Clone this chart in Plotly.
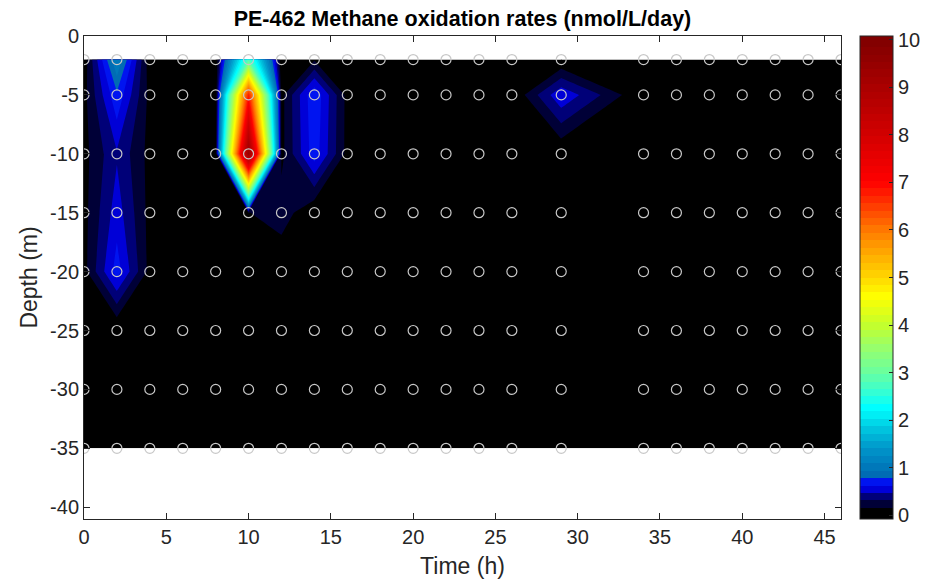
import plotly.graph_objects as go

# Sampling grid
times = [0, 2, 4, 6, 8, 10, 12, 14, 16, 18, 20, 22, 24, 26, 29, 34, 36, 38, 40, 42, 44, 46]
depths = [-2, -5, -10, -15, -20, -25, -30, -35]

# Methane oxidation rates (nmol/L/day), one row per depth, columns follow `times`
rate_d2 = [0.05, 1.1, 0.05, 0, 0, 2.8, 0, 0.14, 0, 0, 0, 0, 0, 0, 0, 0, 0, 0, 0, 0, 0, 0]
rate_d5 = [0.1, 0.75, 0.1, 0, 0, 6.8, 0.1, 0.76, 0.1, 0, 0, 0, 0, 0, 0.6, 0, 0, 0, 0, 0, 0, 0]
rate_d10 = [0.1, 0.45, 0.1, 0, 0, 9.5, 0.1, 0.72, 0.1, 0, 0, 0, 0, 0, 0, 0, 0, 0, 0, 0, 0, 0]
rate_d15 = [0.1, 0.55, 0.1, 0, 0, 0.15, 0.25, 0, 0, 0, 0, 0, 0, 0, 0, 0, 0, 0, 0, 0, 0, 0]
rate_d20 = [0.1, 0.7, 0.1, 0, 0, 0, 0, 0, 0, 0, 0, 0, 0, 0, 0, 0, 0, 0, 0, 0, 0, 0]
rate_d25 = [0] * 22
rate_d30 = [0] * 22
rate_d35 = [0] * 22
rates = [rate_d2, rate_d5, rate_d10, rate_d15, rate_d20, rate_d25, rate_d30, rate_d35]

cbar_ticks = [0, 1, 2, 3, 4, 5, 6, 7, 8, 9, 10]
x_ticks = [0, 5, 10, 15, 20, 25, 30, 35, 40, 45]
y_ticks = [0, -5, -10, -15, -20, -25, -30, -35, -40]

# Colormap key colours (value -> rgb)
cmap_vals = [0.0, 0.16, 0.234, 0.391, 0.547, 0.703, 0.859, 1.4, 1.8, 2.109, 2.266, 2.6, 3.0, 3.5, 4.0,
             4.6, 5.0, 5.5, 6.0, 6.5, 7.0, 8.0, 9.0, 10.0]
cmap_rgb = [(0, 0, 0), (0, 0, 0), (0, 0, 55), (0, 0, 120), (0, 0, 215), (0, 20, 240), (0, 108, 180),
            (0, 150, 202), (0, 195, 222), (0, 238, 245), (0, 255, 255), (55, 255, 210), (105, 255, 160),
            (150, 255, 110), (195, 255, 45), (255, 255, 0), (255, 215, 0), (255, 170, 0), (255, 120, 0),
            (255, 60, 0), (255, 0, 0), (210, 0, 0), (170, 0, 0), (128, 0, 0)]

NLEV = 64
cstep = 10.0 / NLEV
nc = NLEV + 1  # contour levels 0..10


def interp_rgb(v):
    if v <= cmap_vals[0]:
        return cmap_rgb[0]
    for i in range(1, len(cmap_vals)):
        if v <= cmap_vals[i]:
            f = (v - cmap_vals[i - 1]) / (cmap_vals[i] - cmap_vals[i - 1])
            a, b = cmap_rgb[i - 1], cmap_rgb[i]
            return tuple(round(a[j] + f * (b[j] - a[j])) for j in range(3))
    return cmap_rgb[-1]


colorscale = [[0.0, 'rgb(0,0,0)']]
for k in range(NLEV):
    c = interp_rgb((k + 0.5) * cstep)
    colorscale.append([(k + 1) / nc, 'rgb(%d,%d,%d)' % c])
colorscale.append([1.0, 'rgb(%d,%d,%d)' % cmap_rgb[-1]])

FONT = 'Liberation Sans, Arial, Helvetica, sans-serif'
AX = '#262626'

fig = go.Figure()
fig.add_trace(go.Contour(
    x=times, y=depths, z=rates,
    autocontour=False,
    contours=dict(start=0, end=10, size=cstep, coloring='fill', showlines=False),
    line=dict(width=0, smoothing=0),
    colorscale=colorscale,
    hoverinfo='skip',
    colorbar=dict(
        x=1.0251, xanchor='left', xpad=0, y=0.5, yanchor='middle', ypad=0,
        len=1, lenmode='fraction', thickness=33, thicknessmode='pixels',
        outlinewidth=1, outlinecolor=AX,
        ticks='inside', ticklen=4, tickcolor=AX, tickwidth=1,
        tickvals=cbar_ticks, ticktext=[str(t) for t in cbar_ticks],
        tickfont=dict(family=FONT, size=20, color=AX),
    ),
))

xs = [t for d in depths for t in times]
ys = [d for d in depths for t in times]
fig.add_trace(go.Scatter(
    x=xs, y=ys, mode='markers', cliponaxis=True, showlegend=False, hoverinfo='skip',
    marker=dict(symbol='circle-open', size=10, color='#c8c8c8', line=dict(width=1.2, color='#c8c8c8')),
))

fig.update_layout(
    width=930, height=579,
    margin=dict(l=84, r=89, t=36, b=60, autoexpand=False),
    paper_bgcolor='white', plot_bgcolor='white',
    font=dict(family=FONT, color=AX),
    title=dict(text='<b>PE-462 Methane oxidation rates (nmol/L/day)</b>', x=0.4973, xanchor='center',
               y=1 - 18 / 579, yanchor='middle', yref='container',
               font=dict(family=FONT, size=21.5, color='black')),
    showlegend=False,
)
fig.update_xaxes(
    range=[0, 46], tickvals=x_ticks, ticktext=[str(t) for t in x_ticks],
    ticks='inside', ticklen=6, tickcolor=AX, tickwidth=1,
    showline=True, linecolor=AX, linewidth=1, mirror='ticks', showgrid=False, zeroline=False,
    tickfont=dict(family=FONT, size=20, color=AX),
    title=dict(text='Time (h)', font=dict(family=FONT, size=23, color=AX), standoff=10),
)
fig.update_yaxes(
    range=[-41, 0], tickvals=y_ticks, ticktext=[str(t) for t in y_ticks],
    ticks='inside', ticklen=6, tickcolor=AX, tickwidth=1,
    showline=True, linecolor=AX, linewidth=1, mirror='ticks', showgrid=False, zeroline=False,
    tickfont=dict(family=FONT, size=20, color=AX),
    title=dict(text='Depth (m)', font=dict(family=FONT, size=23, color=AX), standoff=6),
)

fig.write_html('out.html')
